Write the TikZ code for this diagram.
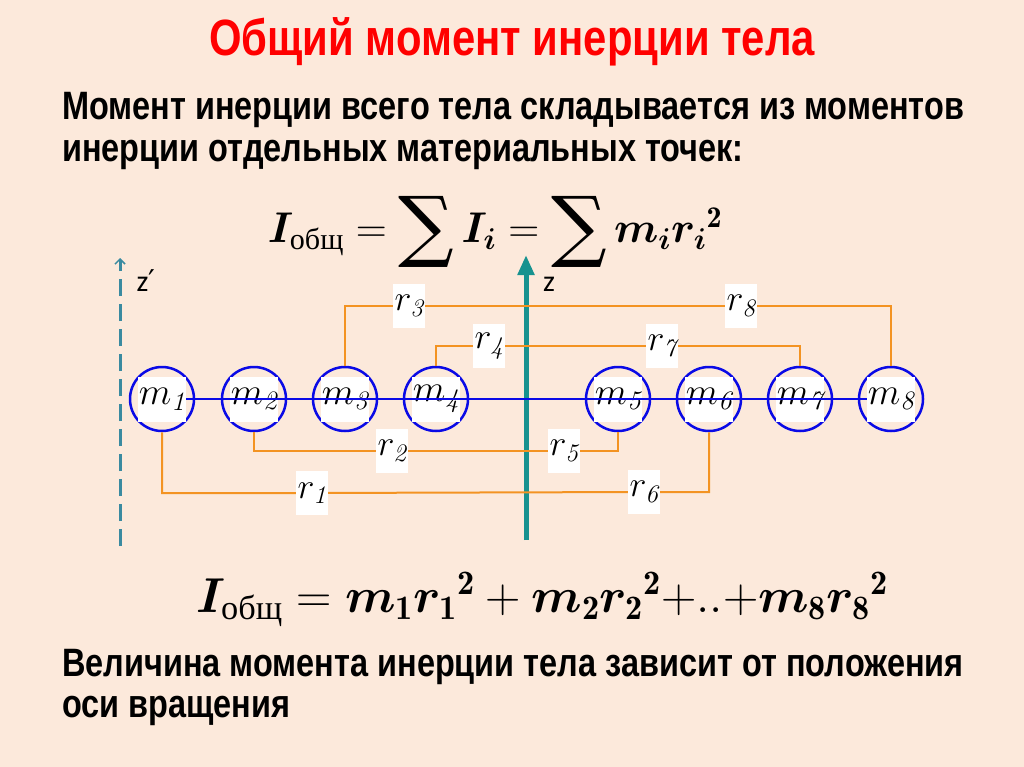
\RequirePackage{fix-cm}
\documentclass[tikz,border=0pt]{standalone}
\usepackage{amsmath,bm}
\usepackage{fontspec}
\usepackage{xcolor}
\usetikzlibrary{arrows.meta}
\newfontfamily\headfont[FakeStretch=0.82]{Liberation Sans}
\newfontfamily\cyrserif{Liberation Serif}
\newfontfamily\axisfont{Carlito}
\newfontfamily\primefont{DejaVu Sans}
\newfontfamily\sumfont{DejaVu Serif}
\definecolor{bgpeach}{HTML}{FCE9DB}
\definecolor{massblue}{HTML}{0A0AE6}
\definecolor{rorange}{HTML}{F39322}
\definecolor{zteal}{HTML}{17928F}
\definecolor{zpteal}{HTML}{3A8AA0}
\newcommand{\obsch}{\text{\cyrserif общ}}
\newcommand{\bigsum}{\mathop{\vcenter{\hbox{\sumfont\fontsize{78}{78}\selectfont ∑}}}}
\begin{document}
\begin{tikzpicture}[x=1pt,y=-1pt,
  headline/.style={anchor=base,inner sep=0pt,text=red,font=\headfont\bfseries\fontsize{51}{51}\selectfont},
  bodyline/.style={anchor=base west,inner sep=0pt,font=\headfont\bfseries\fontsize{39.6}{40}\selectfont},
  formula/.style={anchor=base,inner sep=0pt,font=\fontsize{43}{43}\selectfont},
  mass/.style={circle,draw=massblue,line width=2.5pt,minimum size=64pt,inner sep=0pt},
  mtag/.style={fill=white,inner sep=0pt,minimum width=48pt,minimum height=45pt,font=\fontsize{38}{38}\selectfont},
  rtag/.style={fill=white,inner sep=0pt,minimum width=32pt,minimum height=44pt,font=\fontsize{36}{36}\selectfont},
  bline/.style={draw=massblue,line width=2pt},
  rline/.style={draw=rorange,line width=2pt},
  zaxis/.style={draw=zteal,line width=5pt,-{Triangle[length=20pt,width=16pt]}},
  zpaxis/.style={draw=zpteal,line width=3pt,dash pattern=on 17pt off 8pt,-{Straight Barb[length=5pt,width=10pt,line width=1.5pt]}},
  axislab/.style={inner sep=0pt,font=\axisfont\fontsize{30}{30}\selectfont}
]
\useasboundingbox (0,0) rectangle (1024,767);
\fill[bgpeach] (0,0) rectangle (1024,767);

% texts
\node[headline] (title) at (512,56) {Общий момент инерции тела};
\node[bodyline] (intro1) at (62,120) {Момент инерции всего тела складывается из моментов};
\node[bodyline] (intro2) at (62,162) {инерции отдельных материальных точек:};
\node[formula] (sumeq) at (495,243)
  {$\bm{I}_{\obsch}=\bigsum\bm{I}_{\bm{i}}=\bigsum\bm{m}_{\bm{i}}{\bm{r}_{\bm{i}}}^{\mathbf{2}}$};
\node[formula,font=\fontsize{49}{49}\selectfont] (fulleq) at (542,612)
  {$\bm{I}_{\obsch}=\bm{m}_{\mathbf{1}}{\bm{r}_{\mathbf{1}}}^{\mathbf{2}}+\bm{m}_{\mathbf{2}}{\bm{r}_{\mathbf{2}}}^{\mathbf{2}}{+}{..}{+}\bm{m}_{\mathbf{8}}{\bm{r}_{\mathbf{8}}}^{\mathbf{2}}$};
\node[bodyline] (outro1) at (62,676) {Величина момента инерции тела зависит от положения};
\node[bodyline] (outro2) at (62,717) {оси вращения};

% axes
\coordinate (zpb) at (120,546);
\coordinate (zpt) at (120,258);
\draw[zpaxis] (zpb) -- (zpt);
\node[axislab] (zplab) at (146,281) {z{\primefont ′}};
\coordinate (zb) at (526,540);
\coordinate (zt) at (526,255);
\draw[zaxis] (zb) -- (zt);
\node[axislab] (zlab) at (549,284) {z};

% masses
\foreach \i/\x in {1/162,2/254,3/345,4/436,5/618,6/709,7/800,8/891}{
  \node[mass] (m\i) at (\x,399) {};
  \node[mtag] (t\i) at (m\i) {$m_{\mathit{\i}}$};
}
\draw[bline] (t1) \foreach \i in {2,...,8}{ -- (t\i)};

% distances
\node[rtag] (r3) at (409,306) {$r_{\mathit{3}}$};
\node[rtag] (r8) at (741,306) {$r_{\mathit{8}}$};
\node[rtag] (r4) at (489,346) {$r_{\mathit{4}}$};
\node[rtag] (r7) at (662,346) {$r_{\mathit{7}}$};
\node[rtag] (r2) at (392,451) {$r_{\mathit{2}}$};
\node[rtag] (r5) at (564,451) {$r_{\mathit{5}}$};
\node[rtag] (r1) at (312,493) {$r_{\mathit{1}}$};
\node[rtag] (r6) at (644,492) {$r_{\mathit{6}}$};
\draw[rline] (m3.north) |- (r3) -- (r8) -| (m8.north);
\draw[rline] (m4.north) |- (r4) -- (r7) -| (m7.north);
\draw[rline] (m2.south) |- (r2) -- (r5) -| (m5.south);
\draw[rline] (m1.south) |- (r1) -- (r6) -| (m6.south);
\end{tikzpicture}
\end{document}
